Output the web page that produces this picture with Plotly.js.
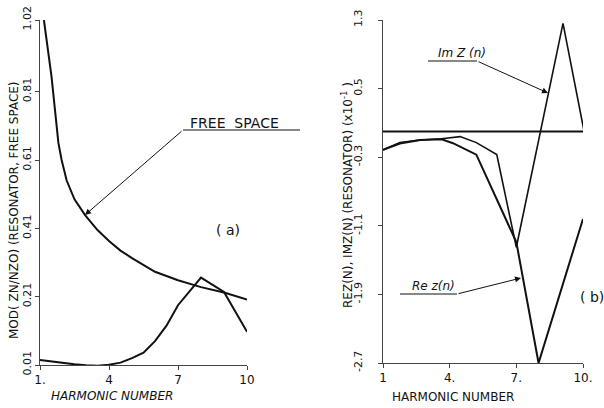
<!DOCTYPE html>
<html><head><meta charset="utf-8">
<script src="https://cdn.plot.ly/plotly-3.0.1.min.js"></script>
<style>html,body{margin:0;padding:0;background:#fff;}#c{width:604px;height:408px;}</style>
</head><body><div id="c"></div>
<script>
// Panel (a)
const freeX = [1.17,1.5,1.8,1.94,2.16,2.5,2.96,3.5,4,4.5,5,6,7,8,9,10];
const freeY = [1.02,0.855,0.66,0.61,0.55,0.495,0.449,0.405,0.373,0.345,0.323,0.283,0.258,0.238,0.222,0.202];
const resX = [1,1.5,2,2.5,3,3.5,4,4.5,5,5.5,6,6.5,7,8,9,10];
const resY = [0.025,0.02,0.016,0.012,0.009,0.008,0.011,0.017,0.03,0.046,0.08,0.125,0.185,0.266,0.224,0.107];
const aXTicks = [1,4,7,10];
const aXLabels = ['1.','4','7','10'];
const aYTicks = [0.01,0.21,0.41,0.61,0.81,1.02];
const aYLabels = ['0.01','0.21','0.41','0.61','0.81','1.02'];
// Panel (b)
const reX = [1,1.76,2.67,3.64,4.15,5.2,7,8,10];
const reY = [-0.215,-0.14,-0.1,-0.09,-0.137,-0.27,-1.29,-2.7,-1.02];
const imX = [1,1.76,2.67,3.64,4.47,5.2,6.12,7,9.1,10.05];
const imY = [-0.215,-0.13,-0.1,-0.085,-0.06,-0.13,-0.27,-1.35,1.26,0];
const zeroX = [1,10.05];
const zeroY = [0,0];
const bXTicks = [1,4,7,10];
const bXLabels = ['1','4.','7.','10.'];
const bYTicks = [-2.7,-1.9,-1.1,-0.3,0.5,1.3];
const bYLabels = ['-2.7','-1.9','-1.1','-0.3','0.5','1.3'];

const W = 604, H = 408;
const px = v => v / W, py = v => 1 - v / H;
const FONT = '"DejaVu Sans", sans-serif';
const ink = '#111';

const traces = [
  {x: freeX, y: freeY, xaxis: 'x', yaxis: 'y', mode: 'lines', line: {color: ink, width: 2}, hoverinfo: 'skip', cliponaxis: false},
  {x: resX, y: resY, xaxis: 'x', yaxis: 'y', mode: 'lines', line: {color: ink, width: 2}, hoverinfo: 'skip'},
  {x: zeroX, y: zeroY, xaxis: 'x2', yaxis: 'y2', mode: 'lines', line: {color: ink, width: 2}, hoverinfo: 'skip', cliponaxis: false},
  {x: imX, y: imY, xaxis: 'x2', yaxis: 'y2', mode: 'lines', line: {color: ink, width: 1.6}, hoverinfo: 'skip', cliponaxis: false},
  {x: reX, y: reY, xaxis: 'x2', yaxis: 'y2', mode: 'lines', line: {color: ink, width: 2}, hoverinfo: 'skip', cliponaxis: false}
];

const axBase = {showgrid: false, zeroline: false, showline: true, linecolor: '#444', linewidth: 1,
  ticks: 'outside', ticklen: 4, tickcolor: '#444', tickfont: {family: FONT, size: 12, color: ink}, automargin: false};

const layout = {
  width: W, height: H, margin: {l: 0, r: 0, t: 0, b: 0}, showlegend: false,
  paper_bgcolor: '#fff', plot_bgcolor: '#fff', font: {family: FONT, color: ink},
  xaxis: Object.assign({}, axBase, {domain: [px(40), px(247)], range: [1, 10], anchor: 'y', tickmode: 'array', tickvals: aXTicks, ticktext: aXLabels}),
  yaxis: Object.assign({}, axBase, {domain: [py(365), py(20)], range: [0.01, 1.02], anchor: 'x', tickmode: 'array', tickvals: aYTicks, ticktext: aYLabels, tickangle: -90, tickfont: {family: FONT, size: 11, color: ink}}),
  xaxis2: Object.assign({}, axBase, {domain: [px(383), px(583)], range: [1, 10], anchor: 'y2', tickmode: 'array', tickvals: bXTicks, ticktext: bXLabels}),
  yaxis2: Object.assign({}, axBase, {domain: [py(363), py(20)], range: [-2.7, 1.3], anchor: 'x2', tickmode: 'array', tickvals: bYTicks, ticktext: bYLabels, tickangle: -90, ticklabelstandoff: 12, tickfont: {family: FONT, size: 11, color: ink}}),
  shapes: [
    {type: 'line', xref: 'paper', yref: 'paper', x0: px(183), x1: px(300), y0: py(130), y1: py(130), line: {color: ink, width: 1}},
    {type: 'line', xref: 'paper', yref: 'paper', x0: px(428), x1: px(477), y0: py(61), y1: py(61), line: {color: ink, width: 1}},
    {type: 'line', xref: 'paper', yref: 'paper', x0: px(400), x1: px(457), y0: py(294), y1: py(294), line: {color: ink, width: 1}}
  ],
  annotations: [
    {xref: 'paper', yref: 'paper', x: px(85), y: py(215), text: '', showarrow: true, arrowhead: 2, arrowsize: 1.2, arrowwidth: 1, arrowcolor: ink, ax: 98, ay: -85},
    {xref: 'paper', yref: 'paper', x: px(548), y: py(93), text: '', showarrow: true, arrowhead: 2, arrowsize: 1.2, arrowwidth: 1, arrowcolor: ink, ax: -71, ay: -32},
    {xref: 'paper', yref: 'paper', x: px(521), y: py(278), text: '', showarrow: true, arrowhead: 2, arrowsize: 1.2, arrowwidth: 1, arrowcolor: ink, ax: -64, ay: 16},
    {xref: 'paper', yref: 'paper', x: px(234), y: py(123), text: 'FREE  SPACE', showarrow: false, xanchor: 'center', yanchor: 'middle', font: {family: FONT, size: 14, color: ink}},
    {xref: 'paper', yref: 'paper', x: px(462), y: py(53), text: '<i>Im Z (n)</i>', showarrow: false, xanchor: 'center', yanchor: 'middle', font: {family: FONT, size: 12, color: ink}},
    {xref: 'paper', yref: 'paper', x: px(433), y: py(286), text: '<i>Re z(n)</i>', showarrow: false, xanchor: 'center', yanchor: 'middle', font: {family: FONT, size: 12, color: ink}},
    {xref: 'paper', yref: 'paper', x: px(228), y: py(230), text: '( a)', showarrow: false, xanchor: 'center', yanchor: 'middle', font: {family: FONT, size: 14, color: ink}},
    {xref: 'paper', yref: 'paper', x: px(592), y: py(297), text: '( b)', showarrow: false, xanchor: 'center', yanchor: 'middle', font: {family: FONT, size: 14, color: ink}},
    {xref: 'paper', yref: 'paper', x: px(14), y: py(210), text: 'MOD( ZN/NZO) (RESONATOR, FREE SPACE)', textangle: -90, showarrow: false, xanchor: 'center', yanchor: 'middle', font: {family: FONT, size: 12, color: ink}},
    {xref: 'paper', yref: 'paper', x: px(347), y: py(195), text: 'REZ(N), IMZ(N) (RESONATOR) (x10<sup>-1</sup> )', textangle: -90, showarrow: false, xanchor: 'center', yanchor: 'middle', font: {family: FONT, size: 12, color: ink}},
    {xref: 'paper', yref: 'paper', x: px(112), y: py(396), text: '<i>HARMONIC NUMBER</i>', showarrow: false, xanchor: 'center', yanchor: 'middle', font: {family: FONT, size: 12, color: ink}},
    {xref: 'paper', yref: 'paper', x: px(453), y: py(397), text: 'HARMONIC NUMBER', showarrow: false, xanchor: 'center', yanchor: 'middle', font: {family: FONT, size: 12, color: ink}}
  ]
};

Plotly.newPlot('c', traces, layout, {staticPlot: true, displayModeBar: false});
</script></body></html>
